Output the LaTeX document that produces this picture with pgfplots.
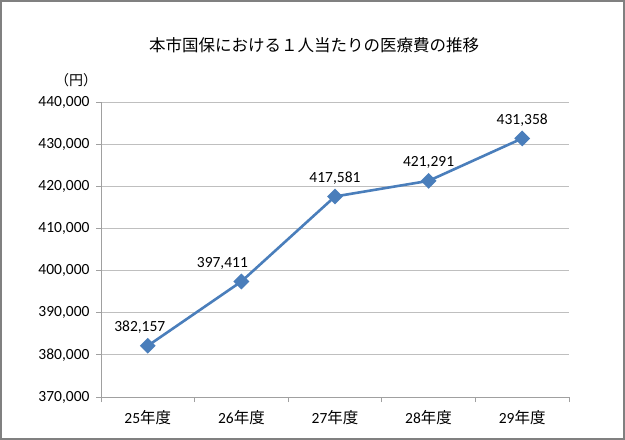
\documentclass[border=0pt]{standalone}
\usepackage{fontspec}
\setmainfont{Carlito}
\newfontfamily\jp{Noto Sans CJK JP}
\usepackage{pgfplots}
\pgfplotsset{compat=1.18}

\definecolor{serie}{RGB}{74,126,187}
\definecolor{gridc}{RGB}{191,191,191}
\definecolor{axisc}{RGB}{160,160,160}
\definecolor{framec}{RGB}{128,128,128}

\pgfplotstableread{
x y
0 382157
1 397411
2 417581
3 421291
4 431358
}\cost

\begin{document}
\begin{tikzpicture}
  \useasboundingbox (0,0) rectangle (625bp,440bp);
  \fill[white] (0,0) rectangle (625bp,440bp);
  \draw[framec, line width=2bp] (1bp,1bp) rectangle (624bp,439bp);

  \node[font=\jp\fontsize{16.5bp}{18bp}\selectfont] at (314bp,395bp)
    {本市国保における１人当たりの医療費の推移};
  \node[font=\jp\fontsize{14bp}{16bp}\selectfont] at (76bp,360bp) {（円）};

  \begin{axis}[
    at={(101bp,43bp)}, anchor=south west,
    scale only axis, width=468bp, height=295bp,
    xmin=-0.5, xmax=4.5,
    ymin=370000, ymax=440000,
    ytick distance=10000,
    scaled y ticks=false,
    axis x line*=bottom, axis y line*=left,
    axis line style={axisc, line width=0.8bp, -},
    ymajorgrids, grid style={gridc, line width=0.8bp},
    tick align=outside,
    major tick length=5bp,
    ytick style={axisc, line width=0.8bp},
    xtick={0,...,4},
    xticklabels={25{\jp 年度},26{\jp 年度},27{\jp 年度},28{\jp 年度},29{\jp 年度}},
    major x tick style={draw=none},
    minor xtick={-0.5,0.5,1.5,2.5,3.5,4.5},
    minor tick length=5bp,
    minor x tick style={axisc, line width=0.8bp},
    tick label style={font=\fontsize{15.5bp}{17bp}\selectfont, black},
    xticklabel style={yshift=-5bp},
    yticklabel style={xshift=-3bp},
    /pgf/number format/assume math mode=true,
    yticklabel={\pgfmathprintnumber[fixed, precision=0, 1000 sep={,}]{\tick}},
    clip=false,
  ]
    \addplot[serie, line width=2.6bp, mark=square*, mark size=4.3bp,
      mark options={rotate=45, serie},
      nodes near coords={\pgfmathprintnumber[fixed, precision=0, 1000 sep={,}, assume math mode=true]{\pgfplotspointmeta}},
      point meta=explicit,
      every node near coord/.append style={font=\fontsize{15.5bp}{17bp}\selectfont, black, anchor=south, inner sep=0pt, yshift=11bp},
      coordinate style/.condition={\coordindex==0}{xshift=-8bp},
      coordinate style/.condition={\coordindex==1}{xshift=-19bp}]
      table[x=x, y=y, meta=y] {\cost};
  \end{axis}
\end{tikzpicture}
\end{document}
